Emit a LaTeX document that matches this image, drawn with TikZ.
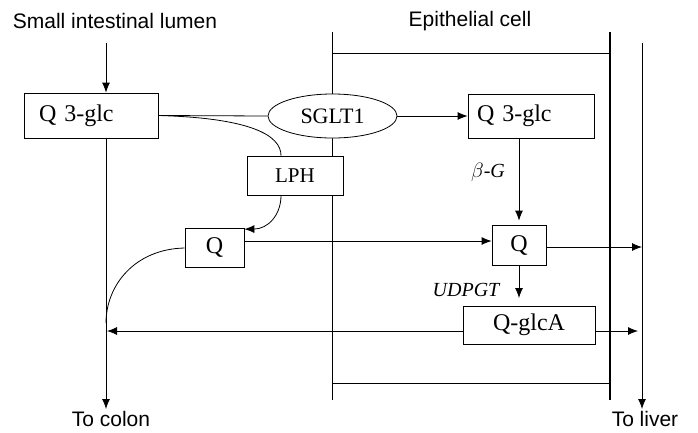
\documentclass[tikz,border=0pt]{standalone}
\usepackage{fontspec}
\setmainfont{Liberation Serif}
\setsansfont{Liberation Sans}
\usetikzlibrary{arrows.meta,shapes.geometric}
\begin{document}
\begin{tikzpicture}[x=1pt,y=-1pt,
  line width=0.8pt,
  tip/.style={-{Latex[length=10pt,width=8pt]}},
  lbl/.style={font=\sffamily\fontsize{21}{24}\selectfont, inner sep=0},
  bx/.style={draw, font=\fontsize{24}{28}\selectfont, inner sep=0, align=center},
  sbx/.style={draw, font=\fontsize{21}{24}\selectfont, inner sep=0, align=center},
  enz/.style={font=\itshape\fontsize{20}{24}\selectfont, inner sep=0}]
\useasboundingbox (0,0) rectangle (698,432);

% labels
\node[lbl] (lumen) at (115,21) {Small intestinal lumen};
\node[lbl] (epi) at (470,21) {Epithelial cell};
\node[lbl] (colon) at (111,419) {To colon};
\node[lbl] (liver) at (645,419) {To liver};

% membranes
\coordinate (m1t) at (332,32);
\coordinate (m1b) at (332,400);
\coordinate (m2t) at (610,32);
\coordinate (m2b) at (610,400);
\coordinate (ht1) at (332,53);
\coordinate (ht2) at (610,53);
\coordinate (hb1) at (332,383);
\coordinate (hb2) at (610,383);
\draw (m1t) -- (m1b);
\draw[line width=1.8pt] (m2t) -- (m2b);
\draw (ht1) -- (ht2);
\draw (hb1) -- (hb2);

% blood vessel line to liver
\coordinate (lvt) at (642,43);
\coordinate (lvb) at (642,409);
\draw[tip] (lvt) -- (lvb);

% boxes
\node[draw, font=\fontsize{24}{28}\selectfont, inner ysep=0, inner xsep=15pt,
  text width=104pt, minimum height=45pt, align=left] (qg1) at (91,115.5) {Q 3-glc};
\node[draw, ellipse, font=\fontsize{22}{26}\selectfont, inner sep=0,
  minimum width=129pt, minimum height=44pt, fill=white] (sglt) at (332.5,116) {SGLT1};
\node[draw, font=\fontsize{24}{28}\selectfont, inner ysep=0, inner xsep=9pt,
  text width=108pt, minimum height=44pt, align=left] (qg2) at (531,116) {Q 3-glc};
\node[sbx, minimum width=96pt, minimum height=39pt, fill=white] (lph) at (295,175.5) {LPH};
\node[bx, minimum width=59pt, minimum height=39pt] (q1) at (214.5,247.5) {Q};
\node[bx, minimum width=54pt, minimum height=40pt] (q2) at (519,245) {Q};
\node[bx, minimum width=132pt, minimum height=38pt] (qga) at (529,325) {Q-glcA};

% enzyme labels
\node[enz] (bg) at (488,172) {$\beta$-\textit{G}};
\node[enz] (udp) at (466,290) {UDPGT};

% lumen arrow
\coordinate (lumtop) at (106,43);
\draw[tip] (lumtop) -- (qg1.north -| lumtop);

% to colon
\coordinate (colb) at (106,409);
\draw[tip] (qg1.south -| colb) -- (colb);

% Q3glc -> SGLT1 -> Q3glc
\draw (qg1.east) -- (sglt.west);
\draw[tip] (sglt.east) -- (qg2.west);

% Q3glc -> LPH curve
\draw (qg1.east) .. controls (250,118) and (281,135) .. (lph.north -| 281,0);

% LPH -> Q curve
\draw[tip] (lph.south -| 281,0) .. controls (281,215) and (268,229) .. ([yshift=-1.5pt]q1.north east);

% Q -> Q
\draw[tip] ([yshift=6.5pt]q1.east) -- ([yshift=4pt]q2.west);

% Q left -> colon curve
\coordinate (cj) at (106,323);
\draw ([yshift=-0.5pt]q1.west) .. controls (135,249) and (106,285) .. (cj);

% beta-G arrow
\draw[tip, shorten >=4pt] (qg2.south -| q2.north) -- (q2.north);

% Q -> liver
\draw[tip] ([yshift=-2pt]q2.east) -- ([yshift=-2pt]q2.east -| lvt);

% UDPGT arrow
\coordinate (ut) at (519,298);
\draw[tip] (q2.south) -- (ut);

% Q-glcA -> colon line
\coordinate (qcl) at (107,331);
\draw[tip] ([yshift=-6pt]qga.west) -- ([yshift=-6pt]qga.west -| qcl);

% Q-glcA -> liver
\coordinate (qgr) at (638,331);
\draw[tip] ([yshift=-6pt]qga.east) -- (qgr);
\end{tikzpicture}
\end{document}
